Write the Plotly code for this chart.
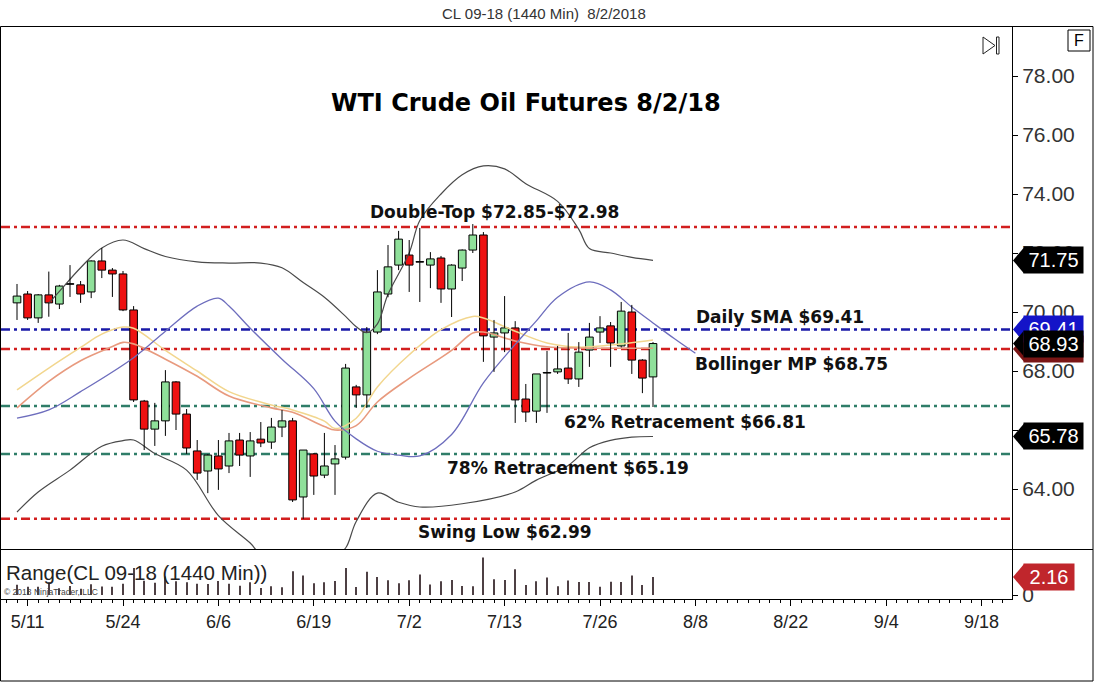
import plotly.graph_objects as go

# ---------------- data ----------------
dates = ["5/10", "5/11", "5/14", "5/15", "5/16", "5/17", "5/18", "5/21", "5/22", "5/23", "5/24", "5/25",
         "5/28", "5/29", "5/30", "5/31", "6/1", "6/4", "6/5", "6/6", "6/7", "6/8", "6/11", "6/12", "6/13",
         "6/14", "6/15", "6/18", "6/19", "6/20", "6/21", "6/22", "6/25", "6/26", "6/27", "6/28", "6/29",
         "7/2", "7/3", "7/4", "7/5", "7/6", "7/9", "7/10", "7/11", "7/12", "7/13", "7/16", "7/17", "7/18",
         "7/19", "7/20", "7/23", "7/24", "7/25", "7/26", "7/27", "7/30", "7/31", "8/1", "8/2"]

opens = [70.31, 70.61, 69.80, 70.58, 70.27, 70.94, 70.92, 70.68, 71.73, 71.42, 71.29, 70.07, 66.98,
         66.03, 66.31, 67.63, 66.54, 65.29, 64.61, 65.12, 64.78, 65.66, 65.12, 65.69, 65.59, 66.10,
         66.31, 63.73, 65.19, 64.47, 64.85, 65.08, 67.46, 67.19, 69.32, 70.61, 71.59, 71.93, 71.69,
         71.59, 71.83, 70.78, 71.49, 72.10, 72.61, 69.15, 69.29, 69.46, 67.05, 66.64, 67.93, 67.97,
         68.10, 67.73, 68.71, 69.32, 69.53, 68.85, 70.00, 68.37, 67.80]
highs = [70.95, 70.71, 70.61, 71.37, 70.92, 71.59, 71.05, 71.75, 72.17, 71.49, 71.39, 70.20, 67.02,
         66.92, 68.03, 67.66, 66.71, 65.66, 65.18, 65.66, 65.90, 65.90, 65.93, 66.27, 66.41, 66.68,
         66.41, 65.32, 65.22, 65.90, 65.49, 68.24, 67.53, 69.49, 71.42, 72.27, 72.75, 72.44, 72.85,
         72.03, 71.90, 71.62, 72.12, 72.98, 72.71, 69.73, 70.54, 69.69, 67.56, 67.90, 68.68, 68.85,
         69.29, 68.98, 69.63, 69.86, 69.66, 70.34, 70.24, 68.40, 68.98]
lows = [69.73, 69.73, 69.63, 69.84, 70.10, 70.51, 70.31, 70.47, 71.15, 70.51, 70.03, 66.95, 65.32,
        65.46, 65.80, 66.00, 65.19, 64.31, 63.86, 63.97, 64.54, 64.78, 64.41, 65.42, 65.36, 65.76,
        63.56, 62.99, 63.80, 64.37, 63.80, 65.00, 66.75, 66.75, 69.25, 70.50, 71.42, 70.68, 70.34,
        70.81, 70.31, 69.83, 71.05, 72.00, 68.31, 67.97, 68.64, 66.24, 66.27, 66.24, 66.58, 67.90,
        67.56, 67.46, 68.14, 68.95, 68.14, 68.80, 67.90, 67.25, 66.78]
closes = [70.54, 69.80, 70.58, 70.31, 70.88, 70.94, 70.61, 71.73, 71.42, 71.29, 70.07, 67.02, 66.03,
          66.31, 67.63, 66.54, 65.39, 64.54, 65.15, 64.68, 65.63, 65.15, 65.63, 65.56, 66.10, 66.31,
          63.63, 65.32, 64.44, 64.78, 65.02, 68.10, 67.19, 69.32, 70.68, 71.53, 72.47, 71.59, 71.69,
          71.80, 70.78, 71.59, 72.10, 72.61, 69.19, 69.29, 69.46, 67.02, 66.61, 67.90, 67.93, 68.07,
          67.73, 68.64, 69.15, 69.46, 68.95, 70.03, 68.37, 67.76, 68.93]
day_range = [1.22, 0.98, 0.98, 1.53, 0.82, 1.08, 0.74, 1.28, 1.02, 0.98, 1.36, 3.25, 1.70, 1.46, 2.23,
             1.66, 1.52, 1.35, 1.32, 1.69, 1.36, 1.12, 1.52, 0.85, 1.05, 0.92, 2.85, 2.33, 1.42, 1.53,
             1.69, 3.24, 0.95, 2.80, 2.17, 1.77, 1.40, 1.76, 2.45, 1.25, 1.65, 1.79, 1.07, 1.05, 4.50,
             1.90, 1.80, 3.10, 1.20, 1.66, 2.10, 1.05, 1.73, 1.55, 1.55, 1.00, 1.60, 1.55, 2.34, 1.20,
             2.16]

# indicator lines (bar index, value)
upper_bars = [3, 4, 6, 8, 10, 12, 14, 17, 20, 23, 25, 27, 29, 31, 32, 33, 34, 35, 37, 38, 40, 42, 44,
              46, 48, 51, 53, 54, 56, 58, 60]
upper_vals = [70.30, 70.70, 71.50, 72.17, 72.44, 72.15, 71.88, 71.70, 71.66, 71.66, 71.50, 71.00,
              70.50, 69.85, 69.50, 69.30, 69.60, 70.60, 72.00, 73.10, 74.00, 74.65, 74.95, 74.85,
              74.35, 73.75, 72.80, 72.15, 72.00, 71.85, 71.75]
lower_bars = [0, 2, 5, 8, 10, 11, 13, 16, 19, 22, 23, 27, 30, 31, 32, 34, 36, 38, 42, 47, 49, 52, 54,
              56, 58, 60]
lower_vals = [63.22, 63.90, 64.64, 65.45, 65.64, 65.66, 65.20, 64.64, 63.10, 62.17, 61.80, 61.50,
              61.75, 62.00, 62.90, 63.86, 63.55, 63.39, 63.50, 63.90, 64.30, 64.80, 65.40, 65.65,
              65.76, 65.78]
mid_bars = [0, 3, 6, 9, 10, 11, 14, 17, 20, 24, 26, 29, 30, 32, 34, 37, 41, 43, 44, 47, 50, 53, 60]
mid_vals = [66.75, 67.65, 68.35, 68.83, 68.97, 68.92, 68.40, 67.82, 67.15, 66.75, 66.60, 66.12,
            66.00, 66.15, 66.95, 67.75, 68.70, 69.29, 69.32, 69.02, 68.82, 68.78, 68.77]
fast_bars = [0, 3, 6, 8, 10, 11, 14, 17, 20, 24, 26, 29, 30, 32, 34, 37, 40, 43, 44, 45, 47, 50, 53,
             56, 60]
fast_vals = [67.36, 68.10, 68.80, 69.25, 69.49, 69.45, 68.70, 68.00, 67.30, 66.85, 66.68, 66.30,
             66.05, 66.40, 67.46, 68.55, 69.40, 69.85, 69.80, 69.66, 69.35, 68.95, 68.81, 68.88, 69.05]
sma_bars = [0, 3, 6, 11, 14, 17, 19, 20, 22, 25, 28, 30, 32, 34, 36, 38, 41, 44, 47, 49, 51, 54, 56,
            58, 60, 62, 64]
sma_vals = [66.40, 66.68, 67.30, 68.45, 69.35, 70.20, 70.47, 70.20, 69.45, 68.40, 67.40, 66.30,
            65.70, 65.28, 65.15, 65.12, 65.85, 67.60, 68.90, 69.70, 70.50, 71.02, 70.75, 70.17,
            69.63, 69.10, 68.60]

levels = [72.88, 69.41, 68.75, 66.81, 65.19, 62.99]
level_colors = ["#d21f1f", "#1a1aa8", "#d21f1f", "#2f7d68", "#2f7d68", "#d21f1f"]
level_texts = ["Double-Top $72.85-$72.98", "Daily SMA $69.41", "Bollinger MP $68.75",
               "62% Retracement $66.81", "78% Retracement $65.19", "Swing Low $62.99"]

flag_values = [71.75, 69.41, 68.75, 68.93, 65.78]
flag_colors = ["#000000", "#1414c8", "#7a1515", "#000000", "#000000"]
range_flag = 2.16

tick_labels = ["5/11", "5/24", "6/6", "6/19", "7/2", "7/13", "7/26", "8/8", "8/22", "9/4", "9/18"]
price_ticks = [64, 66, 68, 70, 72, 74, 76, 78]

# ---------------- geometry ----------------
W, H = 1094, 682
L, R, T, B = 1, 1012, 27, 599
PW, PH = R - L, B - T
def fx(px):
    return (px - L) / PW
def fy(py):
    return (B - py) / PH

FONT = "Liberation Sans, Arial, sans-serif"
BOLD = "DejaVu Sans, Liberation Sans, sans-serif"
bars = list(range(len(dates)))
UP, DOWN = "#8fe09a", "#ee1111"

fig = go.Figure()

# indicator lines
fig.add_trace(go.Scatter(x=fast_bars, y=fast_vals, mode="lines",
                         line=dict(color="#f2d68e", width=1.5, shape="spline"), hoverinfo="skip"))
fig.add_trace(go.Scatter(x=mid_bars, y=mid_vals, mode="lines",
                         line=dict(color="#e89a7e", width=1.6, shape="spline"), hoverinfo="skip"))
fig.add_trace(go.Scatter(x=sma_bars, y=sma_vals, mode="lines",
                         line=dict(color="#6d6dbd", width=1.3, shape="spline"), hoverinfo="skip"))
fig.add_trace(go.Scatter(x=upper_bars, y=upper_vals, mode="lines",
                         line=dict(color="#4a4a4a", width=1.2, shape="spline"), hoverinfo="skip"))
fig.add_trace(go.Scatter(x=lower_bars, y=lower_vals, mode="lines",
                         line=dict(color="#4a4a4a", width=1.2, shape="spline"), hoverinfo="skip"))

# candles: wicks (outside the body) + bodies
wick_x, wick_y = [], []
for i, o, h, l, c in zip(bars, opens, highs, lows, closes):
    wick_x += [i, i, None, i, i, None]
    wick_y += [l, min(o, c), None, max(o, c), h, None]
fig.add_trace(go.Scatter(x=wick_x, y=wick_y, mode="lines", line=dict(color="#000000", width=1),
                         hoverinfo="skip"))
body_base = [min(o, c) for o, c in zip(opens, closes)]
body_len = [max(abs(c - o), 0.02) for o, c in zip(opens, closes)]
body_col = [UP if c > o else (DOWN if c < o else "#000000") for o, c in zip(opens, closes)]
fig.add_trace(go.Bar(x=bars, y=body_len, base=body_base, width=0.72,
                     marker=dict(color=body_col, line=dict(color="#000000", width=1)),
                     hovertext=dates, xaxis="x", yaxis="y"))

# range panel
fig.add_trace(go.Bar(x=bars, y=day_range, width=0.1, marker=dict(color="#4e4044", line=dict(width=0)),
                     xaxis="x", yaxis="y2", hoverinfo="skip"))

shapes = []
for v, c in zip(levels, level_colors):
    shapes.append(dict(type="line", xref="paper", yref="y", x0=0, x1=1, y0=v, y1=v,
                       line=dict(color=c, width=2.5, dash="9px,4px,3px,4px"), layer="below"))

annotations = []
hh = 13 / 29.5
for v, c in zip(flag_values, flag_colors):
    shapes.append(dict(type="path", xref="paper", yref="y",
                       path=f"M {fx(1013)},{v} L {fx(1024)},{v + hh} L {fx(1024)},{v - hh} Z",
                       fillcolor=c, line=dict(width=0)))
    annotations.append(dict(xref="paper", yref="y", x=fx(1023), y=v, xanchor="left", yanchor="middle",
                            text=f"{v:.2f}", showarrow=False, bgcolor=c, width=59, height=26,
                            borderpad=0, font=dict(family=FONT, size=20,
                                                   color=c if c == "#7a1515" else "white")))
hr = 13 / 8.33
shapes.append(dict(type="path", xref="paper", yref="y2",
                   path=f"M {fx(1013)},{range_flag} L {fx(1024)},{range_flag + hr} L {fx(1024)},{range_flag - hr} Z",
                   fillcolor="#c0262c", line=dict(width=0)))
annotations.append(dict(xref="paper", yref="y2", x=fx(1023), y=range_flag, xanchor="left",
                        yanchor="middle", text=f"{range_flag:.2f}", showarrow=False, bgcolor="#c0262c",
                        width=50, height=26, borderpad=0, font=dict(family=FONT, size=20, color="white")))

# frames and icons
shapes.append(dict(type="rect", xref="paper", yref="paper", x0=fx(0.5), x1=fx(1093), y0=fy(681),
                   y1=fy(26.5), line=dict(color="#000000", width=1)))
shapes.append(dict(type="line", xref="paper", yref="paper", x0=fx(0.5), x1=fx(1093), y0=fy(549.5),
                   y1=fy(549.5), line=dict(color="#000000", width=1)))
shapes.append(dict(type="rect", xref="paper", yref="paper", x0=fx(1068), x1=fx(1090), y0=fy(51),
                   y1=fy(30), line=dict(color="#000000", width=1)))
shapes.append(dict(type="path", xref="paper", yref="paper",
                   path=f"M {fx(983)},{fy(37)} L {fx(995)},{fy(45.5)} L {fx(983)},{fy(54)} Z",
                   line=dict(color="#222222", width=1)))
shapes.append(dict(type="rect", xref="paper", yref="paper", x0=fx(996.5), x1=fx(999), y0=fy(54),
                   y1=fy(37), line=dict(color="#222222", width=1)))

# texts
def note(text, px, py, size, family=FONT, color="#111111", xanchor="center"):
    annotations.append(dict(xref="paper", yref="paper", x=fx(px), y=fy(py), text=text,
                            xanchor=xanchor, yanchor="middle", showarrow=False,
                            font=dict(family=family, size=size, color=color)))

note("CL 09-18 (1440 Min)  8/2/2018", 544, 13, 15, color="#333333")
note("F", 1079, 40.5, 16, color="#000000")
note("<b>WTI Crude Oil Futures 8/2/18</b>", 526, 103, 24, family=BOLD, color="#000000")
text_pos = [(494, 212), (780, 317), (791, 364), (685, 422), (568, 468), (505, 532)]
for t, (px, py) in zip(level_texts, text_pos):
    note(f"<b>{t}</b>", px, py, 17, family=BOLD)
note("Range(CL 09-18 (1440 Min))", 4, 572, 20.5, color="#222222", xanchor="left")
note("© 2018 NinjaTrader, LLC", 2, 592, 8.5, color="#444444", xanchor="left")

px_per_bar = 10.6
x0_px = 17
fig.update_layout(
    width=W, height=H, autosize=False,
    margin=dict(l=L, r=W - R, t=T, b=H - B, pad=0),
    paper_bgcolor="white", plot_bgcolor="white",
    showlegend=False, barmode="overlay",
    font=dict(family=FONT, color="#333333"),
    xaxis=dict(anchor="y2", range=[(L - x0_px) / px_per_bar, (R - x0_px) / px_per_bar],
               tickvals=[1 + 9 * k for k in range(len(tick_labels))], ticktext=tick_labels,
               ticks="outside", ticklen=6, tickcolor="#000000", showline=True, linecolor="#000000",
               linewidth=1, showgrid=False, zeroline=False,
               tickfont=dict(family=FONT, size=18, color="#222222"),
               minor=dict(dtick=1, tick0=0, ticks="outside", ticklen=3, tickcolor="#000000", showgrid=False)),
    yaxis=dict(domain=[(B - 549) / PH, 1], range=[78 - (549 - 76) / 29.5, 78 + (76 - T) / 29.5],
               side="right", anchor="x", tickvals=price_ticks, tickformat=".2f", ticks="outside",
               ticklen=5, tickcolor="#000000", showline=True, linecolor="#000000", linewidth=1,
               showgrid=False, zeroline=False, tickfont=dict(family=FONT, size=21, color="#333333")),
    yaxis2=dict(domain=[0, (B - 550) / PH], range=[-0.48, 5.4], side="right", anchor="x",
                tickvals=[0], ticktext=["0"], ticks="outside", ticklen=5, tickcolor="#000000",
                showline=True, linecolor="#000000", linewidth=1, showgrid=False, zeroline=False,
                tickfont=dict(family=FONT, size=21, color="#333333")),
    shapes=shapes, annotations=annotations,
)

fig.write_html("out.html", config={"displayModeBar": False},
               post_script="document.body.style.margin='0px';document.body.style.overflow='hidden';")
